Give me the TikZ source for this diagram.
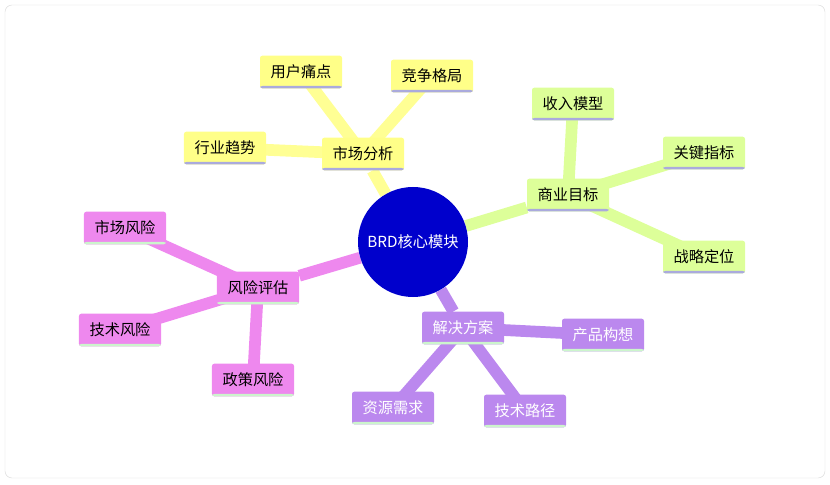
\documentclass[tikz,border=0pt]{standalone}
\usepackage{fontspec}
\setmainfont{Noto Sans CJK SC}
\usetikzlibrary{backgrounds}
\definecolor{ylw}{HTML}{FFFF88}
\definecolor{grn}{HTML}{DDFF99}
\definecolor{pnk}{HTML}{EE88EE}
\definecolor{ppl}{HTML}{BB88EE}
\definecolor{lav}{HTML}{AAAADD}
\definecolor{mint}{HTML}{CCF5CC}
\tikzset{
  topic/.style={fill=#1,rounded corners=2pt,minimum width=2.46cm,minimum height=0.98cm,inner sep=2pt,font=\fontsize{13}{15}\selectfont},
  yb/.style={topic=ylw,path picture={\fill[lav] (path picture bounding box.south west) rectangle ([yshift=2pt]path picture bounding box.south east);}},
  gb/.style={topic=grn,path picture={\fill[lav] (path picture bounding box.south west) rectangle ([yshift=2pt]path picture bounding box.south east);}},
  pb/.style={topic=pnk,path picture={\fill[mint] (path picture bounding box.south west) rectangle ([yshift=2pt]path picture bounding box.south east);}},
  vb/.style={topic=ppl,text=white,path picture={\fill[mint] (path picture bounding box.south west) rectangle ([yshift=2pt]path picture bounding box.south east);}},
  branch/.style={line width=10pt,draw=#1}
}
\begin{document}
\begin{tikzpicture}[x=0.03cm,y=-0.03cm]
\useasboundingbox (0,0) rectangle (830,485);
\draw[draw=black!15,rounded corners=6pt] (5,5) rectangle (825,478);

\node[circle,fill=blue!80!black,minimum size=3.3cm,text=white,font=\fontsize{13}{15}\selectfont] (core) at (413,242) {BRD核心模块};

\node[yb] (market) at (363,154) {市场分析};
\node[yb] (pain) at (301,72) {用户痛点};
\node[yb] (compete) at (432,76) {竞争格局};
\node[yb] (trend) at (225,148) {行业趋势};

\node[gb] (biz) at (568,195) {商业目标};
\node[gb] (income) at (573,104) {收入模型};
\node[gb] (kpi) at (704,153) {关键指标};
\node[gb] (strategy) at (704,257) {战略定位};

\node[pb] (risk) at (258,288) {风险评估};
\node[pb] (mrisk) at (125,228) {市场风险};
\node[pb] (trisk) at (120,330) {技术风险};
\node[pb] (prisk) at (253,380) {政策风险};

\node[vb] (solve) at (463,328) {解决方案};
\node[vb] (product) at (603,335) {产品构想};
\node[vb] (resource) at (393,408) {资源需求};
\node[vb] (path) at (525,411) {技术路径};

\begin{scope}[on background layer]
\draw[branch=ylw!90] (core) -- (market);
\draw[branch=ylw!90] (market.center) -- (pain.center);
\draw[branch=ylw!90] (market.center) -- (compete.center);
\draw[branch=ylw!90] (market.center) -- (trend.center);
\draw[branch=grn] (core) -- (biz);
\draw[branch=grn] (biz.center) -- (income.center);
\draw[branch=grn] (biz.center) -- (kpi.center);
\draw[branch=grn] (biz.center) -- (strategy.center);
\draw[branch=pnk] (core) -- (risk);
\draw[branch=pnk] (risk.center) -- (mrisk.center);
\draw[branch=pnk] (risk.center) -- (trisk.center);
\draw[branch=pnk] (risk.center) -- (prisk.center);
\draw[branch=ppl] (core) -- (solve);
\draw[branch=ppl] (solve.center) -- (product.center);
\draw[branch=ppl] (solve.center) -- (resource.center);
\draw[branch=ppl] (solve.center) -- (path.center);
\end{scope}
\end{tikzpicture}
\end{document}
